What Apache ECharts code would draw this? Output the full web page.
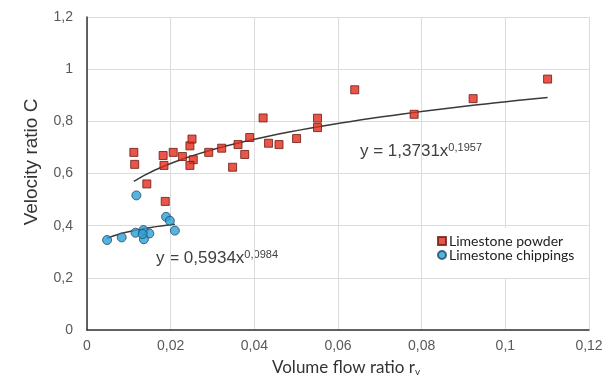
<!DOCTYPE html>
<html>
<head>
<meta charset="utf-8">
<script src="https://cdn.jsdelivr.net/npm/echarts@6/dist/echarts.min.js"></script>
<style>
  html, body { margin: 0; padding: 0; background: #fff; }
  #chart { width: 608px; height: 387px; }
</style>
</head>
<body>
<div id="chart"></div>
<script>
// tick labels (decimal comma as in the original)
const xTicks = ['0', '0,02', '0,04', '0,06', '0,08', '0,1', '0,12'];
const yTicks = ['0', '0,2', '0,4', '0,6', '0,8', '1', '1,2'];

// [volume flow ratio, velocity ratio]
const powder = [
  [0.0112, 0.681], [0.0114, 0.635], [0.0143, 0.560], [0.0182, 0.669],
  [0.0184, 0.631], [0.0187, 0.493], [0.0206, 0.681], [0.0228, 0.665],
  [0.0246, 0.706], [0.0251, 0.732], [0.0254, 0.653], [0.0246, 0.631],
  [0.0291, 0.681], [0.0322, 0.697], [0.0348, 0.624], [0.0361, 0.711],
  [0.0377, 0.673], [0.0389, 0.738], [0.0421, 0.813], [0.0434, 0.716],
  [0.0459, 0.711], [0.0501, 0.734], [0.0551, 0.812], [0.0551, 0.776],
  [0.0640, 0.921], [0.0782, 0.827], [0.0923, 0.887], [0.1101, 0.962]
];
const chippings = [
  [0.0118, 0.516], [0.0189, 0.434], [0.0198, 0.419], [0.0210, 0.381],
  [0.0048, 0.345], [0.0083, 0.355], [0.0116, 0.373], [0.0135, 0.383],
  [0.0149, 0.370], [0.0136, 0.348], [0.0133, 0.368]
];

// power trendlines y = a * x^b, as printed on the chart
const powderFit = { a: 1.3731, b: 0.1957, from: 0.0112, to: 0.1101 };
const chippingsFit = { a: 0.5934, b: 0.0984, from: 0.0048, to: 0.0210 };

function fitLine(f) {
  const pts = [];
  const n = 40;
  for (let i = 0; i <= n; i++) {
    const x = f.from + (f.to - f.from) * i / n;
    pts.push([x, f.a * Math.pow(x, f.b)]);
  }
  return pts;
}

const chart = echarts.init(document.getElementById('chart'));

const axisLbl = { color: '#595959', fontSize: 14, fontFamily: 'Liberation Sans, Arial' };
const eqRich = {
  b: { fontSize: 17, fontFamily: 'Liberation Sans, Arial', fill: '#404040' },
  s: { fontSize: 11, fontFamily: 'Liberation Sans, Arial', fill: '#404040', verticalAlign: 'top', padding: [0, 0, 7, 0] }
};

chart.setOption({
  animation: false,
  grid: { left: 87, right: 19, top: 17, bottom: 57 },
  xAxis: {
    type: 'value', min: 0, max: 0.12, interval: 0.02,
    axisLine: { onZero: false, lineStyle: { color: '#333', width: 1.5 } },
    axisTick: { show: false },
    axisLabel: { ...axisLbl, margin: 9, formatter: (v, i) => xTicks[i] },
    splitLine: { lineStyle: { color: '#dcdcdc' } }
  },
  yAxis: {
    type: 'value', min: 0, max: 1.2, interval: 0.2,
    axisLine: { show: true, onZero: false, lineStyle: { color: '#333', width: 1.5 } },
    axisTick: { show: false },
    axisLabel: { ...axisLbl, margin: 14, formatter: (v, i) => yTicks[i] },
    splitLine: { lineStyle: { color: '#dcdcdc' } }
  },
  legend: {
    orient: 'vertical',
    left: 425, top: 228,
    backgroundColor: '#fff',
    padding: [6, 14, 16, 12],
    itemGap: 0,
    itemWidth: 8, itemHeight: 8,
    textStyle: { color: '#222', fontSize: 14, fontFamily: 'Lato', padding: [0, 0, 0, -2] },
    data: [
      { name: 'Limestone powder', icon: 'rect' },
      { name: 'Limestone chippings', icon: 'circle' }
    ]
  },
  series: [
    {
      name: 'powder fit', type: 'line', data: fitLine(powderFit),
      showSymbol: false, smooth: false, silent: true,
      lineStyle: { color: '#3a3a3a', width: 1.5 }, z: 3
    },
    {
      name: 'chippings fit', type: 'line', data: fitLine(chippingsFit),
      showSymbol: false, smooth: false, silent: true,
      lineStyle: { color: '#3a3a3a', width: 1.5 }, z: 3
    },
    {
      name: 'Limestone powder', type: 'scatter', data: powder,
      symbol: 'rect', symbolSize: 8,
      itemStyle: { color: '#e42a1c', borderColor: '#6a1a12', borderWidth: 1 }, z: 4
    },
    {
      name: 'Limestone chippings', type: 'scatter', data: chippings,
      symbol: 'circle', symbolSize: 9,
      itemStyle: { color: '#2d9fd6', borderColor: '#1c4a66', borderWidth: 1 }, z: 4
    }
  ],
  graphic: [
    {
      type: 'text', left: 360, top: 142,
      style: { text: '{b|y = 1,3731x}{s|0,1957}', rich: eqRich }
    },
    {
      type: 'text', left: 156, top: 249,
      style: { text: '{b|y = 0,5934x}{s|0,0984}', rich: eqRich }
    },
    {
      type: 'text', x: 32, y: 162, rotation: Math.PI / 2,
      style: {
        text: 'Velocity ratio C',
        fontSize: 19, fontFamily: 'Liberation Sans, Arial', fill: '#333',
        align: 'center', verticalAlign: 'middle'
      }
    },
    {
      type: 'text', left: 272, top: 359,
      style: {
        text: '{b|Volume flow ratio r}{s|v}',
        rich: {
          b: { fontSize: 17, fontFamily: 'Lato', fill: '#333' },
          s: { fontSize: 10, fontFamily: 'Lato', fill: '#333', padding: [9, 0, 0, 0] }
        }
      }
    }
  ]
});
</script>
</body>
</html>
